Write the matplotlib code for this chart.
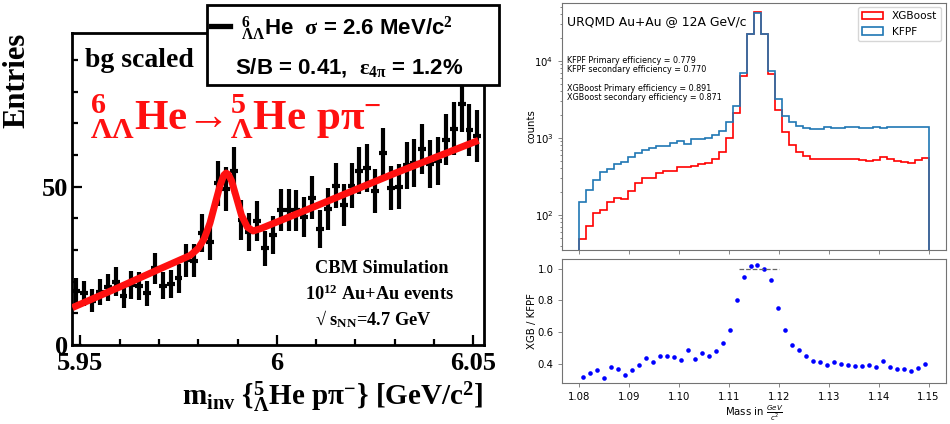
import numpy as np
import matplotlib
matplotlib.use("Agg")
import matplotlib.pyplot as plt
from matplotlib.patches import Rectangle
from matplotlib.lines import Line2D
from matplotlib.ticker import MultipleLocator

plt.rcParams['mathtext.fontset'] = 'custom'
plt.rcParams['mathtext.rm'] = 'Liberation Serif:bold'
plt.rcParams['mathtext.it'] = 'Liberation Serif:italic:bold'
plt.rcParams['mathtext.bf'] = 'Liberation Serif:bold'
plt.rcParams['mathtext.sf'] = 'Liberation Sans:bold'

# ---------------- left panel data (CBM simulation) ----------------
he_mass = [5.949, 5.951, 5.953, 5.955, 5.957, 5.959, 5.961, 5.963, 5.965, 5.967,
           5.969, 5.971, 5.973, 5.975, 5.977, 5.979, 5.981, 5.983, 5.985, 5.987,
           5.989, 5.991, 5.993, 5.995, 5.997, 5.999, 6.001, 6.003, 6.005, 6.007,
           6.009, 6.011, 6.013, 6.015, 6.017, 6.019, 6.021, 6.023, 6.025, 6.027,
           6.029, 6.031, 6.033, 6.035, 6.037, 6.039, 6.041, 6.043, 6.045, 6.047,
           6.049, 6.051]
he_entries = [17.2, 16.3, 14.0, 16.6, 18.2, 20.0, 15.6, 19.0, 18.6, 16.3,
              24.2, 18.7, 19.2, 21.1, 26.8, 26.6, 35.3, 32.6, 51.1, 49.2,
              55.0, 39.5, 35.8, 39.2, 30.5, 34.7, 42.6, 42.6, 42.5, 40.3,
              46.5, 36.5, 43.0, 50.3, 44.2, 50.3, 55.0, 55.8, 48.7, 60.7,
              49.5, 50.0, 56.7, 57.4, 62.0, 57.2, 58.2, 64.8, 68.3, 76.0,
              68.0, 66.0]
he_errors = [4.1, 4.0, 3.7, 4.1, 4.3, 4.5, 3.9, 4.4, 4.3, 4.0,
             4.9, 4.3, 4.4, 4.6, 5.2, 5.2, 5.9, 5.7, 7.1, 7.0,
             7.4, 6.3, 6.0, 6.3, 5.5, 5.9, 6.5, 6.5, 6.5, 6.3,
             6.8, 6.0, 6.6, 7.1, 6.6, 7.1, 7.4, 7.5, 7.0, 7.8,
             7.0, 7.1, 7.5, 7.6, 7.9, 7.6, 7.6, 8.0, 8.3, 8.7,
             8.2, 8.1]
fit_mass = [5.9480, 5.9600, 5.9700, 5.9780, 5.9800, 5.9815, 5.9830, 5.9845,
            5.9856, 5.9865, 5.9871, 5.9877, 5.9885, 5.9895, 5.9910, 5.9925,
            5.9940, 5.9960, 6.0100, 6.0300, 6.0513]
fit_entries = [11.8, 18.3, 23.9, 28.3, 30.5, 33.5, 38.5, 45.5,
               50.5, 53.6, 54.3, 53.8, 51.8, 47.5, 41.0, 37.2,
               36.0, 36.8, 43.9, 54.2, 64.6]
left_xticks = [5.95, 6.0, 6.05]
left_xticklabels = ['5.95', '6', '6.05']
left_yticks = [0, 50]
left_yticklabels = ['0', '50']

# ---------------- right panel data (URQMD) ----------------
mass_edges = [1.0800, 1.0814, 1.0828, 1.0842, 1.0856, 1.0870, 1.0884, 1.0898, 1.0912, 1.0926,
              1.0940, 1.0954, 1.0968, 1.0982, 1.0996, 1.1010, 1.1024, 1.1038, 1.1052, 1.1066,
              1.1080, 1.1094, 1.1108, 1.1122, 1.1136, 1.1150, 1.1164, 1.1178, 1.1192, 1.1206,
              1.1220, 1.1234, 1.1248, 1.1262, 1.1276, 1.1290, 1.1304, 1.1318, 1.1332, 1.1346,
              1.1360, 1.1374, 1.1388, 1.1402, 1.1416, 1.1430, 1.1444, 1.1458, 1.1472, 1.1486,
              1.1500]
mass_centers = [1.0807, 1.0821, 1.0835, 1.0849, 1.0863, 1.0877, 1.0891, 1.0905, 1.0919, 1.0933,
                1.0947, 1.0961, 1.0975, 1.0989, 1.1003, 1.1017, 1.1031, 1.1045, 1.1059, 1.1073,
                1.1087, 1.1101, 1.1115, 1.1129, 1.1143, 1.1157, 1.1171, 1.1185, 1.1199, 1.1213,
                1.1227, 1.1241, 1.1255, 1.1269, 1.1283, 1.1297, 1.1311, 1.1325, 1.1339, 1.1353,
                1.1367, 1.1381, 1.1395, 1.1409, 1.1423, 1.1437, 1.1451, 1.1465, 1.1479, 1.1493]
xgb_counts = [48, 72, 105, 114, 149, 166, 163, 207, 258, 299,
              305, 348, 373, 373, 412, 424, 437, 455, 469, 529,
              652, 989, 2089, 6383, 22500, 42400, 21980, 6776, 2308, 1184,
              811, 664, 584, 533, 529, 529, 533, 529, 533, 529,
              518, 507, 518, 561, 529, 498, 492, 478, 518, 550]
kfpf_counts = [149, 211, 285, 355, 392, 459, 492, 572, 632, 685,
               735, 772, 787, 869, 906, 836, 960, 960, 1009, 1094,
               1233, 1614, 2602, 6918, 21980, 41600, 22430, 7413, 3177, 1932,
               1581, 1403, 1335, 1297, 1297, 1362, 1322, 1335, 1362, 1375,
               1349, 1335, 1375, 1349, 1362, 1362, 1362, 1389, 1389, 1375]
ratio_values = [0.318, 0.339, 0.360, 0.312, 0.377, 0.369, 0.329, 0.362, 0.394, 0.434,
                0.411, 0.446, 0.448, 0.442, 0.421, 0.484, 0.432, 0.469, 0.450, 0.480,
                0.530, 0.610, 0.799, 0.945, 1.015, 1.025, 0.998, 0.927, 0.752, 0.610,
                0.518, 0.484, 0.448, 0.419, 0.413, 0.392, 0.413, 0.398, 0.392, 0.387,
                0.387, 0.394, 0.379, 0.419, 0.381, 0.369, 0.364, 0.356, 0.373, 0.396]
right_xticks = [1.08, 1.09, 1.10, 1.11, 1.12, 1.13, 1.14, 1.15]
right_xticklabels = ['1.08', '1.09', '1.10', '1.11', '1.12', '1.13', '1.14', '1.15']
ratio_yticks = [0.4, 0.6, 0.8, 1.0]
ratio_yticklabels = ['0.4', '0.6', '0.8', '1.0']
eff_lines = ['KFPF Primary efficiency = 0.779',
             'KFPF secondary efficiency = 0.770',
             'XGBoost Primary efficiency = 0.891',
             'XGBoost secondary efficiency = 0.871']

W, H = 950, 424
fig = plt.figure(figsize=(W / 100, H / 100), dpi=100)


def fx(px):
    return px / W


def fy(py):
    return 1 - py / H


SERIF = 'Liberation Serif'
SANS = 'Liberation Sans'

# ================= LEFT PANEL =================
axL = fig.add_axes([fx(72), fy(345), fx(484) - fx(72), fy(33) - fy(345)])
axL.errorbar(he_mass, he_entries, yerr=he_errors, xerr=0.001, fmt='none',
             ecolor='black', elinewidth=3.0, capsize=0, zorder=2)
axL.plot(fit_mass, fit_entries, color='#ff1010', lw=5.0, solid_capstyle='butt',
         solid_joinstyle='round', zorder=3)
axL.set_xlim(5.9479, 6.0527)
axL.set_ylim(0, 98.5)
for s in axL.spines.values():
    s.set_linewidth(2.0)
axL.set_xticks(left_xticks, left_xticklabels, fontsize=19, fontfamily=SERIF, fontweight='bold')
axL.set_yticks(left_yticks, left_yticklabels, fontsize=19, fontfamily=SERIF, fontweight='bold')
axL.xaxis.set_minor_locator(MultipleLocator(0.01))
axL.yaxis.set_minor_locator(MultipleLocator(10))
axL.tick_params(which='both', direction='in', top=False, right=False, width=1.6)
axL.tick_params(which='major', length=7.5)
axL.tick_params(which='minor', length=4)
axL.tick_params(axis='x', which='major', pad=5)
axL.tick_params(axis='y', which='major', pad=3)

fig.text(fx(17), fy(33), 'Entries', rotation=90, ha='center', va='top',
         fontsize=22, fontfamily=SERIF, fontweight='bold')
fig.text(fx(483), fy(405),
         r'm$_{\mathrm{inv}}$ {${}^{5}_{\Lambda}$He p$\mathrm{\pi}^{-}$} [GeV/c$^{2}$]',
         ha='right', va='baseline', fontsize=21, fontfamily=SERIF, fontweight='bold')
fig.text(fx(85), fy(66.7), 'bg scaled', ha='left', va='baseline',
         fontsize=20, fontfamily=SERIF, fontweight='bold', zorder=6)
fig.text(fx(90), fy(129.3),
         '${}^{6}_{\\Lambda\\Lambda}$He\u2192${}^{5}_{\\Lambda}$He p$\\mathrm{\\pi}^{-}$',
         ha='left', va='baseline', fontsize=31, fontfamily=[SERIF, 'DejaVu Serif'],
         fontweight='bold', color='#ff1010', zorder=6)
fig.text(fx(381.7), fy(273.3), 'CBM Simulation', ha='center', va='baseline',
         fontsize=13.2, fontfamily=SERIF, fontweight='bold')
fig.text(fx(380), fy(300), r'10$^{12}$ Au+Au events', ha='center', va='baseline',
         fontsize=13.2, fontfamily=SERIF, fontweight='bold')
fig.text(fx(315), fy(325), '\u221a s$_{\\mathrm{NN}}$=4.7 GeV', ha='left', va='baseline',
         fontsize=13.2, fontfamily=SERIF, fontweight='bold')

# legend box (drawn over the frame)
box = Rectangle((fx(206.7), fy(85)), fx(499) - fx(206.7), fy(5) - fy(85),
                transform=fig.transFigure, facecolor='white', edgecolor='black',
                linewidth=2.0, zorder=5)
fig.add_artist(box)
fig.add_artist(Line2D([fx(211), fx(230)], [fy(26), fy(26)], transform=fig.transFigure,
                      color='black', lw=3.8, zorder=6))
fig.text(fx(241), fy(34.3),
         r'${}^{6}_{\Lambda\Lambda}$He  $\mathrm{\sigma}$ = 2.6 MeV/c$^{2}$',
         ha='left', va='baseline', fontsize=16, fontfamily=SANS, fontweight='bold', zorder=6)
fig.text(fx(235), fy(73.3),
         r'S/B = 0.41,  $\mathrm{\varepsilon}_{4\mathrm{\pi}}$ = 1.2%',
         ha='left', va='baseline', fontsize=16, fontfamily=SANS, fontweight='bold', zorder=6)

# ================= RIGHT PANELS =================
RFS = 7.3
frame_col = '0.45'
ax1 = fig.add_axes([fx(562), fy(250), fx(946) - fx(562), fy(2.5) - fy(250)])
ax2 = fig.add_axes([fx(562), fy(383.3), fx(946) - fx(562), fy(259) - fy(383.3)], sharex=ax1)

ax1.set_yscale('log')
ax1.hist(mass_centers, bins=mass_edges, weights=xgb_counts, histtype='step',
         color='#ff0000', lw=1.2, label='XGBoost')
ax1.hist(mass_centers, bins=mass_edges, weights=kfpf_counts, histtype='step',
         color='#1f77b4', lw=1.2, label='KFPF')
ax1.set_ylim(35, 57000)
ax1.set_ylabel('counts', fontsize=RFS)
ax1.legend(loc='upper right', fontsize=7.6, borderaxespad=0.45)
plt.setp(ax1.get_xticklabels(), visible=False)

ax2.plot(mass_centers, ratio_values, 'o', color='#0000ff', ms=3.3, mec='none')
ax2.hlines(1.0, 1.112, 1.120, colors='0.4', linestyles='dashed', lw=0.9)
ax2.set_ylabel('XGB / KFPF', fontsize=RFS)
ax2.set_xlabel(r'Mass in $\frac{GeV}{c^2}$', fontsize=RFS, math_fontfamily='dejavusans',
               labelpad=1)
ax2.set_xticks(right_xticks, right_xticklabels)
ax2.set_yticks(ratio_yticks, ratio_yticklabels)
ax2.set_xlim(1.0765, 1.1535)

for ax in (ax1, ax2):
    for s in ax.spines.values():
        s.set_color(frame_col)
        s.set_linewidth(0.8)
    ax.tick_params(which='both', labelsize=RFS, colors='black', width=0.6)
    ax.tick_params(which='both', color=frame_col)
    ax.tick_params(which='major', length=2.6)
    ax.tick_params(which='minor', length=1.5)
    ax.yaxis.set_label_coords(-0.066, 0.5)
    for lab in ax.get_yticklabels() + ax.get_xticklabels():
        lab.set_math_fontfamily('dejavusans')
for lab in ax1.yaxis.get_majorticklabels():
    lab.set_math_fontfamily('dejavusans')

fig.text(fx(566.7), fy(25), 'URQMD Au+Au @ 12A GeV/c', ha='left', va='baseline', fontsize=8.9)
for txt, yb in zip(eff_lines, [63.3, 72.3, 90.7, 99.7]):
    fig.text(fx(566.7), fy(yb), txt, ha='left', va='baseline', fontsize=5.8)

fig.savefig('out.png', dpi=100)
